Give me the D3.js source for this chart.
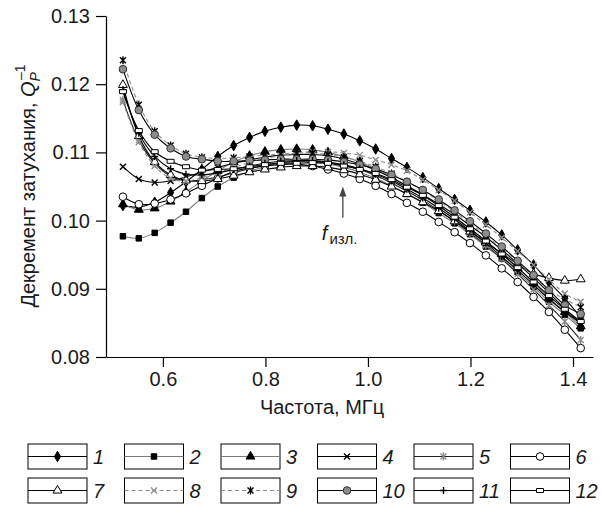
<!DOCTYPE html>
<meta charset="utf-8">
<style>
  body { margin: 0; background: #fff; }
  text { font-family: "Liberation Sans", Arial, sans-serif; fill: #1a1a1a; }
  .axis text { font-size: 20px; }
  .axis path, .axis line { stroke: #000; stroke-width: 1.2px; }
  .box { fill: none; stroke: #000; stroke-width: 1px; }
</style>
<body>
<script src="https://cdn.jsdelivr.net/npm/d3@7"></script>
<script>
// frequency, MHz
var freq = [0.522, 0.553, 0.584, 0.615, 0.645, 0.676, 0.707, 0.738, 0.769, 0.799,
            0.830, 0.861, 0.892, 0.922, 0.953, 0.984, 1.015, 1.046, 1.076, 1.107,
            1.138, 1.169, 1.199, 1.230, 1.261, 1.292, 1.323, 1.353, 1.384, 1.415];

var q1 = [0.1022, 0.1020, 0.1027, 0.1041, 0.1057, 0.1075, 0.1094, 0.1110, 0.1122, 0.1131, 0.1137, 0.1140, 0.1139, 0.1134, 0.1127, 0.1117, 0.1105, 0.1091, 0.1078, 0.1063, 0.1047, 0.1031, 0.1015, 0.0998, 0.0979, 0.0957, 0.0935, 0.0910, 0.0886, 0.0858];
var q2 = [0.0977, 0.0974, 0.0982, 0.0997, 0.1013, 0.1033, 0.1050, 0.1063, 0.1072, 0.1079, 0.1084, 0.1086, 0.1086, 0.1083, 0.1078, 0.1071, 0.1062, 0.1051, 0.1039, 0.1026, 0.1011, 0.0996, 0.0980, 0.0962, 0.0944, 0.0924, 0.0903, 0.0881, 0.0862, 0.0842];
var q3 = [0.1024, 0.1016, 0.1018, 0.1028, 0.1042, 0.1058, 0.1073, 0.1086, 0.1095, 0.1101, 0.1104, 0.1105, 0.1104, 0.1100, 0.1094, 0.1086, 0.1076, 0.1064, 0.1051, 0.1037, 0.1021, 0.1005, 0.0988, 0.0970, 0.0951, 0.0930, 0.0909, 0.0887, 0.0866, 0.0845];
var q4 = [0.1079, 0.1061, 0.1056, 0.1058, 0.1064, 0.1071, 0.1078, 0.1084, 0.1089, 0.1093, 0.1096, 0.1097, 0.1097, 0.1095, 0.1090, 0.1083, 0.1074, 0.1063, 0.1051, 0.1038, 0.1024, 0.1009, 0.0993, 0.0976, 0.0957, 0.0937, 0.0916, 0.0894, 0.0871, 0.0848];
var q5 = [0.1177, 0.1118, 0.1084, 0.1065, 0.1058, 0.1060, 0.1064, 0.1070, 0.1076, 0.1081, 0.1085, 0.1087, 0.1087, 0.1085, 0.1081, 0.1075, 0.1066, 0.1055, 0.1043, 0.1030, 0.1015, 0.0999, 0.0982, 0.0964, 0.0944, 0.0922, 0.0899, 0.0876, 0.0852, 0.0825];
var q6 = [0.1035, 0.1024, 0.1025, 0.1031, 0.1040, 0.1051, 0.1062, 0.1072, 0.1077, 0.1080, 0.1082, 0.1083, 0.1080, 0.1075, 0.1069, 0.1061, 0.1051, 0.1039, 0.1026, 0.1013, 0.0998, 0.0983, 0.0967, 0.0949, 0.0930, 0.0910, 0.0888, 0.0866, 0.0840, 0.0813];
var q7 = [0.1199, 0.1124, 0.1086, 0.1067, 0.1059, 0.1058, 0.1061, 0.1066, 0.1071, 0.1075, 0.1078, 0.1080, 0.1080, 0.1078, 0.1074, 0.1068, 0.1060, 0.1050, 0.1039, 0.1027, 0.1014, 0.0999, 0.0984, 0.0968, 0.0952, 0.0936, 0.0922, 0.0916, 0.0912, 0.0914];
var q8 = [0.1174, 0.1115, 0.1080, 0.1062, 0.1058, 0.1063, 0.1070, 0.1078, 0.1085, 0.1091, 0.1095, 0.1099, 0.1101, 0.1101, 0.1099, 0.1096, 0.1089, 0.1082, 0.1073, 0.1060, 0.1045, 0.1029, 0.1012, 0.0994, 0.0975, 0.0955, 0.0935, 0.0914, 0.0893, 0.0881];
var q9 = [0.1235, 0.1170, 0.1131, 0.1110, 0.1098, 0.1093, 0.1091, 0.1092, 0.1094, 0.1096, 0.1098, 0.1099, 0.1099, 0.1097, 0.1093, 0.1087, 0.1079, 0.1069, 0.1057, 0.1044, 0.1029, 0.1013, 0.0996, 0.0978, 0.0959, 0.0939, 0.0918, 0.0898, 0.0885, 0.0873];
var q10 = [0.1222, 0.1162, 0.1126, 0.1106, 0.1094, 0.1090, 0.1087, 0.1087, 0.1088, 0.1089, 0.1090, 0.1090, 0.1090, 0.1089, 0.1086, 0.1082, 0.1076, 0.1067, 0.1057, 0.1045, 0.1031, 0.1015, 0.0999, 0.0981, 0.0962, 0.0941, 0.0920, 0.0898, 0.0876, 0.0863];
var q11 = [0.1192, 0.1128, 0.1094, 0.1076, 0.1068, 0.1067, 0.1070, 0.1075, 0.1080, 0.1084, 0.1087, 0.1088, 0.1088, 0.1086, 0.1082, 0.1076, 0.1068, 0.1058, 0.1046, 0.1033, 0.1018, 0.1002, 0.0985, 0.0967, 0.0947, 0.0927, 0.0906, 0.0885, 0.0866, 0.0850];
var q12 = [0.1189, 0.1132, 0.1101, 0.1087, 0.1079, 0.1074, 0.1075, 0.1076, 0.1079, 0.1082, 0.1084, 0.1084, 0.1085, 0.1084, 0.1080, 0.1075, 0.1069, 0.1060, 0.1049, 0.1037, 0.1022, 0.1005, 0.0988, 0.0970, 0.0951, 0.0931, 0.0910, 0.0890, 0.0870, 0.0852];

var labels = ["1", "2", "3", "4", "5", "6", "7", "8", "9", "10", "11", "12"];
var xTicks = [0.6, 0.8, 1.0, 1.2, 1.4];
var yTicks = [0.08, 0.09, 0.10, 0.11, 0.12, 0.13];

// f_изл arrow
var fEmit = 0.951;
var arrowFrom = 0.1004, arrowTo = 0.1050;

var width = 602, height = 515;
var gray = "#8c8c8c";

var series = [
  {v: q1,  m: "diamond",  fill: "#000", stroke: "#000", line: "#000"},
  {v: q2,  m: "square",   fill: "#000", stroke: "#000", line: "#7a7a7a"},
  {v: q3,  m: "triangle", fill: "#000", stroke: "#000", line: "#7a7a7a"},
  {v: q4,  m: "x",        fill: "none", stroke: "#000", line: "#000"},
  {v: q5,  m: "star",     fill: "none", stroke: gray,   line: "#222"},
  {v: q6,  m: "circle",   fill: "#fff", stroke: "#000", line: "#000"},
  {v: q7,  m: "triangle", fill: "#fff", stroke: "#000", line: "#000"},
  {v: q8,  m: "x",        fill: "none", stroke: gray,   line: gray, dash: "4,3"},
  {v: q9,  m: "star",     fill: "none", stroke: "#000", line: gray, dash: "4,3"},
  {v: q10, m: "circle",   fill: gray,   stroke: "#333", line: "#000"},
  {v: q11, m: "plus",     fill: "none", stroke: "#000", line: "#000"},
  {v: q12, m: "rect",     fill: "#fff", stroke: "#000", line: "#000"}
];

var x = d3.scaleLinear().domain([0.489, 1.439]).range([106, 593]);
var y = d3.scaleLinear().domain([0.08, 0.13]).range([357, 16]);

var svg = d3.select("body").append("svg")
  .attr("width", width)
  .attr("height", height);

function markerPath(m) {
  switch (m) {
    case "diamond":  return d3.symbol(d3.symbolDiamond, 32)();
    case "square":   return d3.symbol(d3.symbolSquare, 30)();
    case "triangle": return d3.symbol(d3.symbolTriangle, 34)();
    case "circle":   return d3.symbol(d3.symbolCircle, 46)();
    case "x":        return "M-3,-3L3,3M-3,3L3,-3";
    case "plus":     return "M-3.5,0L3.5,0M0,-3.5L0,3.5";
    case "star":     return "M-3,-3L3,3M-3,3L3,-3M0,-4L0,4";
    case "rect":     return "M-3.5,-2L3.5,-2L3.5,2L-3.5,2Z";
  }
}

function drawMarker(g, s, cx, cy) {
  g.append("path")
    .attr("d", markerPath(s.m))
    .attr("transform", "translate(" + cx + "," + cy + ")")
    .attr("fill", s.fill)
    .attr("stroke", s.stroke)
    .attr("stroke-width", (s.m == "x" || s.m == "star" || s.m == "plus") ? 1.4 : 1);
}

var line = d3.line()
  .x(function(d, i) { return x(freq[i]); })
  .y(function(d) { return y(d); })
  .curve(d3.curveCatmullRom);

var plot = svg.append("g");

series.forEach(function(s) {
  var g = plot.append("g");
  g.append("path")
    .attr("d", line(s.v))
    .attr("fill", "none")
    .attr("stroke", s.line)
    .attr("stroke-width", 1.1)
    .attr("stroke-dasharray", s.dash || null);
  s.v.forEach(function(d, i) {
    drawMarker(g, s, x(freq[i]), y(d));
  });
});

// axes
svg.append("g")
  .attr("class", "axis")
  .attr("transform", "translate(106,0)")
  .call(d3.axisLeft(y).tickValues(yTicks).tickFormat(d3.format(".2f"))
    .tickSize(10).tickSizeOuter(0).tickPadding(6));

svg.append("g")
  .attr("class", "axis")
  .attr("transform", "translate(0,357)")
  .call(d3.axisBottom(x).tickValues(xTicks).tickFormat(d3.format(".1f"))
    .tickSize(10).tickSizeOuter(0).tickPadding(5));

svg.selectAll(".axis text").attr("fill", "#1a1a1a");

// axis titles
var yl = svg.append("text")
  .attr("transform", "translate(35,186) rotate(-90)")
  .attr("text-anchor", "middle")
  .style("font-size", "20px");
yl.append("tspan").text("Декремент затухания, ");
yl.append("tspan").text("Q").style("font-style", "italic");
yl.append("tspan").text("P").style("font-style", "italic").style("font-size", "14px").attr("dy", 5);
yl.append("tspan").text("–1").style("font-size", "14px").attr("dx", -8).attr("dy", -15);

svg.append("text")
  .attr("x", 322)
  .attr("y", 414)
  .attr("text-anchor", "middle")
  .style("font-size", "20px")
  .text("Частота, МГц");

// annotation
var ax = x(fEmit);
svg.append("line")
  .attr("x1", ax).attr("x2", ax)
  .attr("y1", y(arrowFrom)).attr("y2", y(arrowTo) + 8)
  .attr("stroke", "#444").attr("stroke-width", 1.3);
svg.append("path")
  .attr("d", "M" + (ax - 3.5) + "," + (y(arrowTo) + 10) + "L" + ax + "," + y(arrowTo) + "L" + (ax + 3.5) + "," + (y(arrowTo) + 10) + "Z")
  .attr("fill", "#444");

var ft = svg.append("text")
  .attr("x", ax - 21)
  .attr("y", y(arrowFrom) + 22)
  .style("font-size", "20px");
ft.append("tspan").text("f").style("font-style", "italic");
ft.append("tspan").text("изл.").style("font-size", "15px").attr("dx", 2).attr("dy", 4);

// legend
var leg = svg.append("g");
labels.forEach(function(l, i) {
  var col = i % 6, row = Math.floor(i / 6);
  var bx = 28 + col * 96.5, by = 444 + row * 34;
  var s = series[i];
  var g = leg.append("g");
  g.append("rect").attr("class", "box")
    .attr("x", bx).attr("y", by).attr("width", 59).attr("height", 25);
  g.append("line")
    .attr("x1", bx).attr("x2", bx + 59)
    .attr("y1", by + 12.5).attr("y2", by + 12.5)
    .attr("stroke", s.line).attr("stroke-width", 1.1)
    .attr("stroke-dasharray", s.dash || null);
  drawMarker(g, s, bx + 29.5, by + 12.5);
  g.append("text")
    .attr("x", bx + 65)
    .attr("y", by + 20)
    .style("font-size", "20px")
    .style("font-style", "italic")
    .text(l);
});
</script>
</body>
